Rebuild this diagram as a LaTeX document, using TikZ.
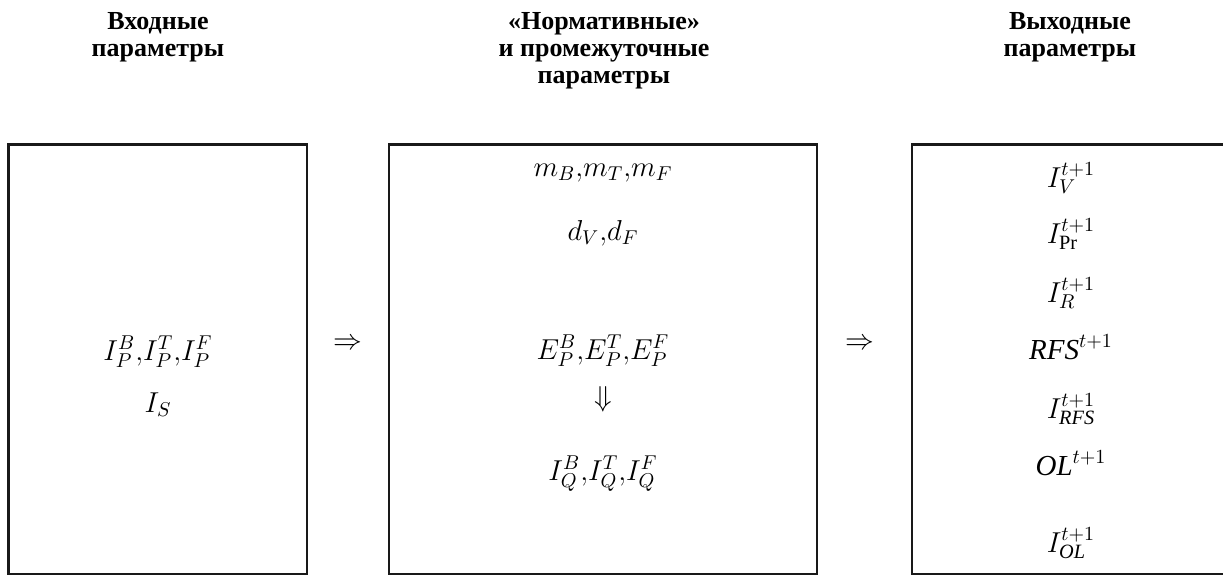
\documentclass[tikz,border=0pt]{standalone}
\usepackage{fontspec}
\setmainfont{Liberation Serif}
\usetikzlibrary{positioning}
\tikzset{
  panel/.style={rectangle, draw=black!90, line width=1.1pt, inner sep=0pt, minimum height=214.75pt},
  head/.style={align=center, inner sep=0pt, anchor=north, font=\fontsize{13}{13.5}\selectfont\bfseries},
  formula/.style={inner sep=0pt, anchor=base, font=\fontsize{14.5}{16}\selectfont},
  implies/.style={inner sep=0pt, font=\fontsize{14}{16}\selectfont}
}

\begin{document}
\begin{tikzpicture}[x=0.5pt, y=-0.5pt]
    \clip (0,0) rectangle (1223,575);
    % headings
    \node[head] (hin) at (158,12) {Входные\\параметры};
    \node[head] (hmid) at (604,12) {«Нормативные»\\и промежуточные\\параметры};
    \node[head] (hout) at (1070,12) {Выходные\\параметры};
    % panels
    \node[panel, minimum width=149.25pt] (in) at (157.75,359.25) {};
    \node[panel, minimum width=214pt] (mid) at (603,359.25) {};
    \node[panel, minimum width=158pt] (out) at (1070,359.25) {};
    % input parameters
    \node[formula] (ip) at (158,360) {$I_P^B{,}I_P^T{,}I_P^F$};
    \node[formula] (is) at (158,412) {$I_S$};
    \node[implies] (a1) at (348,344) {$\Rightarrow$};
    % normative and intermediate parameters
    \node[formula] (m) at (603,176) {$m_B{,}m_T{,}m_F$};
    \node[formula] (d) at (603,240) {$d_V{,}d_F$};
    \node[formula] (e) at (603,359) {$E_P^B{,}E_P^T{,}E_P^F$};
    \node[implies] (a2) at (603,399) {$\Downarrow$};
    \node[formula] (iq) at (603,480) {$I_Q^B{,}I_Q^T{,}I_Q^F$};
    \node[implies] (a3) at (860,344) {$\Rightarrow$};
    % output parameters
    \node[formula] (iv) at (1071,187) {$I_V^{t+1}$};
    \node[formula] (ipr) at (1071,243) {$I_{\mathrm{Pr}}^{t+1}$};
    \node[formula] (ir) at (1071,302) {$I_R^{t+1}$};
    \node[formula] (rfs) at (1071,359) {$\mathit{RFS}^{t+1}$};
    \node[formula] (irfs) at (1071,418) {$I_{\mathit{RFS}}^{t+1}$};
    \node[formula] (ol) at (1071,475) {$\mathit{OL}^{t+1}$};
    \node[formula] (iol) at (1071,552) {$I_{\mathit{OL}}^{t+1}$};
  \end{tikzpicture}
\end{document}
